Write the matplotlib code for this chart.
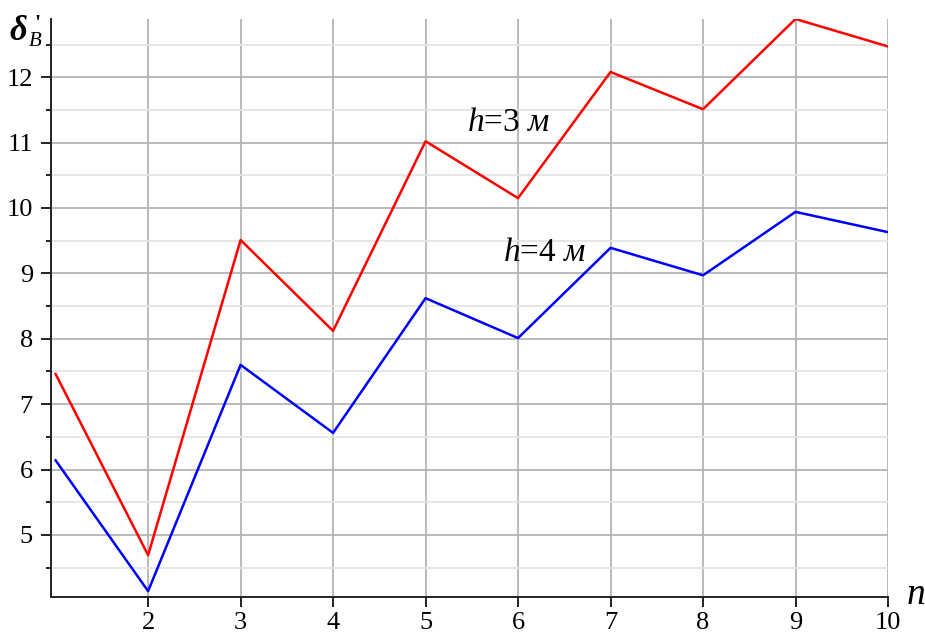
import matplotlib
matplotlib.use("Agg")
import matplotlib.pyplot as plt
from matplotlib.ticker import MultipleLocator

# data
n_values = [1, 2, 3, 4, 5, 6, 7, 8, 9, 10]
delta_h3 = [7.46, 4.69, 9.51, 8.12, 11.02, 10.15, 12.08, 11.51, 12.89, 12.47]
delta_h4 = [6.14, 4.14, 7.60, 6.56, 8.62, 8.01, 9.39, 8.97, 9.94, 9.63]
x_ticks = [2, 3, 4, 5, 6, 7, 8, 9, 10]
y_ticks = [5, 6, 7, 8, 9, 10, 11, 12]

SERIF = "Liberation Serif"
W, H = 925, 635

plt.rcParams["mathtext.fontset"] = "custom"
plt.rcParams["mathtext.rm"] = SERIF
plt.rcParams["mathtext.it"] = SERIF + ":italic"
plt.rcParams["mathtext.bf"] = SERIF + ":italic:bold"

fig = plt.figure(figsize=(W / 100, H / 100), dpi=100)
ax = fig.add_axes([51 / W, 1 - 597 / H, (888 - 51) / W, (597 - 19) / H])

ax.plot(n_values, delta_h3, color="#ff0000", lw=1.8, zorder=3)
ax.plot(n_values, delta_h4, color="#0000ff", lw=1.8, zorder=3)

ax.set_xlim(0.95, 10)
ax.set_ylim(4.05, 12.89)
ax.set_xticks(x_ticks)
ax.set_yticks(y_ticks)
ax.yaxis.set_minor_locator(MultipleLocator(0.5))

ax.grid(True, which="major", color="#b4b4b4", lw=1.3)
ax.grid(True, which="minor", axis="y", color="#e4e4e4", lw=1.3)
ax.set_axisbelow(True)

for s in ["top", "right"]:
    ax.spines[s].set_visible(False)
for s in ["left", "bottom"]:
    ax.spines[s].set_linewidth(1.4)
    ax.spines[s].set_color("#222222")

ax.tick_params(which="major", length=7, width=1.4, color="#222222")
ax.tick_params(which="minor", length=3.5, width=1.4, color="#222222")
ax.tick_params(axis="y", pad=6)
ax.tick_params(axis="x", pad=4)
for lab in ax.get_xticklabels() + ax.get_yticklabels():
    lab.set_fontfamily(SERIF)
    lab.set_fontsize(19)

# curve labels
ax.text(5.90, 11.30, r"$h$=3 $\mathit{м}$", family=SERIF, fontsize=24, ha="center", va="center")
ax.text(6.29, 9.32, r"$h$=4 $\mathit{м}$", family=SERIF, fontsize=24, ha="center", va="center")

# axis names
fig.text(9 / W, 1 - 40 / H, "δ", family=SERIF, style="italic", weight="bold", fontsize=25, ha="left", va="baseline")
fig.text(34 / W, 1 - 29 / H, "'", family=SERIF, weight="bold", fontsize=16, ha="left", va="baseline")
fig.text(29 / W, 1 - 46 / H, "B", family=SERIF, style="italic", fontsize=15, ha="left", va="baseline")
fig.text(907 / W, 1 - 604 / H, "n", family=SERIF, style="italic", fontsize=27, ha="left", va="baseline")

fig.savefig("out.png", dpi=100, facecolor="white")
